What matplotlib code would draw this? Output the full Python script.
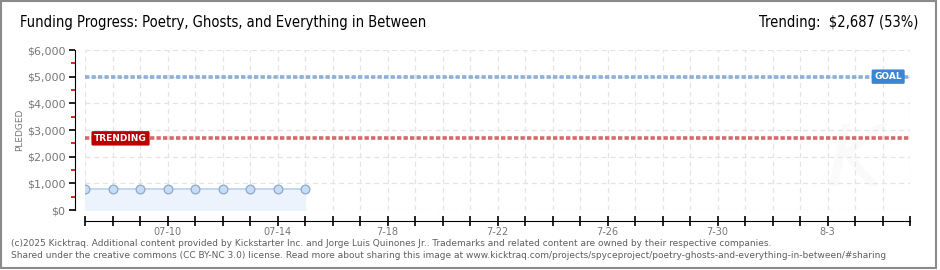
import matplotlib
matplotlib.use("Agg")
import matplotlib.pyplot as plt
import pandas as pd
from matplotlib.patches import Rectangle

# values
dates = ["2025-07-07", "2025-07-08", "2025-07-09", "2025-07-10", "2025-07-11",
         "2025-07-12", "2025-07-13", "2025-07-14", "2025-07-15"]
pledged = [775, 775, 775, 775, 775, 775, 775, 775, 775]
goal = 5000
trending = 2687
range_start = "2025-07-07"
range_end = "2025-08-06"
label_dates = ["2025-07-10", "2025-07-14", "2025-07-18", "2025-07-22",
               "2025-07-26", "2025-07-30", "2025-08-03"]
label_texts = ["07-10", "07-14", "7-18", "7-22", "7-26", "7-30", "8-3"]
y_ticks = [0, 1000, 2000, 3000, 4000, 5000, 6000]
y_labels = ["$0", "$1,000", "$2,000", "$3,000", "$4,000", "$5,000", "$6,000"]

x = pd.to_datetime(dates)
x0, x1 = pd.Timestamp(range_start), pd.Timestamp(range_end)

fig = plt.figure(figsize=(9.4, 2.7), dpi=100)
ax = fig.add_axes([85 / 940, 1 - 210 / 270, 825 / 940, 160 / 270])

# one tick per day, only some of them labelled
days = pd.date_range(x0, x1, freq="D")
lab = dict(zip(pd.to_datetime(label_dates), label_texts))
ax.set_xticks(days, labels=[lab.get(d, "") for d in days])
ax.grid(True, which="major", axis="x", color="#e4e4e4", linestyle=(0, (4, 3)), lw=0.9)
ax.set_yticks(y_ticks, labels=y_labels)
ax.grid(True, which="major", axis="y", color="#e4e4e4", linestyle=(0, (4, 3)), lw=0.9)
ax.set_axisbelow(True)

# faint watermark
ax.text(pd.Timestamp("2025-08-04"), 1800, "K", fontsize=62, color="#fafafa",
        style="italic", ha="center", va="center", zorder=0)

# data
ax.fill_between(x, 0, pledged, color="#ecf3fc", zorder=1)
ax.plot(x, pledged, color="#b9d3ef", lw=1.2, zorder=2)
ax.plot(x, pledged, "o", ms=6.3, mfc="#c6ddf6", mec="#8ea9c8", mew=0.9, zorder=3)

# goal / trending lines
ax.axhline(goal, color="#8cb0da", lw=2.6, linestyle=(0, (1.2, 0.6)), zorder=2)
ax.axhline(trending, color="#d26a6a", lw=2.6, linestyle=(0, (1.2, 0.6)), zorder=2)
ax.text(pd.Timestamp("2025-07-07 08:00"), trending, "TRENDING", color="white",
        fontsize=6.5, fontweight="bold", va="center", ha="left", zorder=5,
        bbox=dict(boxstyle="round,pad=0.3,rounding_size=0.15", fc="#bb0000", ec="none"))
ax.text(pd.Timestamp("2025-08-05 17:00"), goal, "GOAL", color="white",
        fontsize=6.5, fontweight="bold", va="center", ha="right", zorder=5,
        bbox=dict(boxstyle="round,pad=0.3,rounding_size=0.15", fc="#3b86d3", ec="none"))

ax.set_xlim(x0, x1)
ax.set_ylim(0, 6000)

# axes styling
for s in ["top", "right"]:
    ax.spines[s].set_visible(False)
ax.spines["left"].set_position(("outward", 7))
ax.spines["bottom"].set_position(("outward", 8))
ax.spines["left"].set_bounds(0, 6000)
ax.set_yticks([500, 1500, 2500, 3500, 4500, 5500], minor=True)
ax.tick_params(axis="y", which="major", length=4, width=1.2, color="black",
               labelsize=8, labelcolor="#777777", pad=3)
ax.tick_params(axis="y", which="minor", length=3, width=1.2, color="#dd0000")
ax.tick_params(axis="x", which="major", direction="inout", length=7, width=1.2,
               labelsize=7, labelcolor="#777777", pad=0.5)
ax.set_ylabel("PLEDGED", fontsize=6.5, color="#777777", labelpad=2)

# header
head_font = dict(family="DejaVu Sans", fontstretch="condensed")
fig.text(20 / 940, 1 - 22 / 270, "Funding Progress: Poetry, Ghosts, and Everything in Between",
         fontsize=10.5, va="center", ha="left", **head_font)
fig.text(918 / 940, 1 - 22 / 270, "Trending:  $2,687 (53%)",
         fontsize=10.5, va="center", ha="right", **head_font)

# footer
fig.text(11 / 940, 1 - 243.5 / 270,
         "(c)2025 Kicktraq. Additional content provided by Kickstarter Inc. and Jorge Luis Quinones Jr.. "
         "Trademarks and related content are owned by their respective companies.",
         fontsize=6.5, color="#5e5e5e", va="center", ha="left")
fig.text(11 / 940, 1 - 256 / 270,
         "Shared under the creative commons (CC BY-NC 3.0) license. Read more about sharing this image at "
         "www.kicktraq.com/projects/spyceproject/poetry-ghosts-and-everything-in-between/#sharing",
         fontsize=6.5, color="#5e5e5e", va="center", ha="left")

# frame round the whole image
fig.patches.append(Rectangle((0.5 / 940, 1 - 268 / 270), 935.5 / 940, 267 / 270,
                             transform=fig.transFigure, fill=False, ec="#8a8a8a", lw=1.5))

fig.savefig("out.png", dpi=100)
